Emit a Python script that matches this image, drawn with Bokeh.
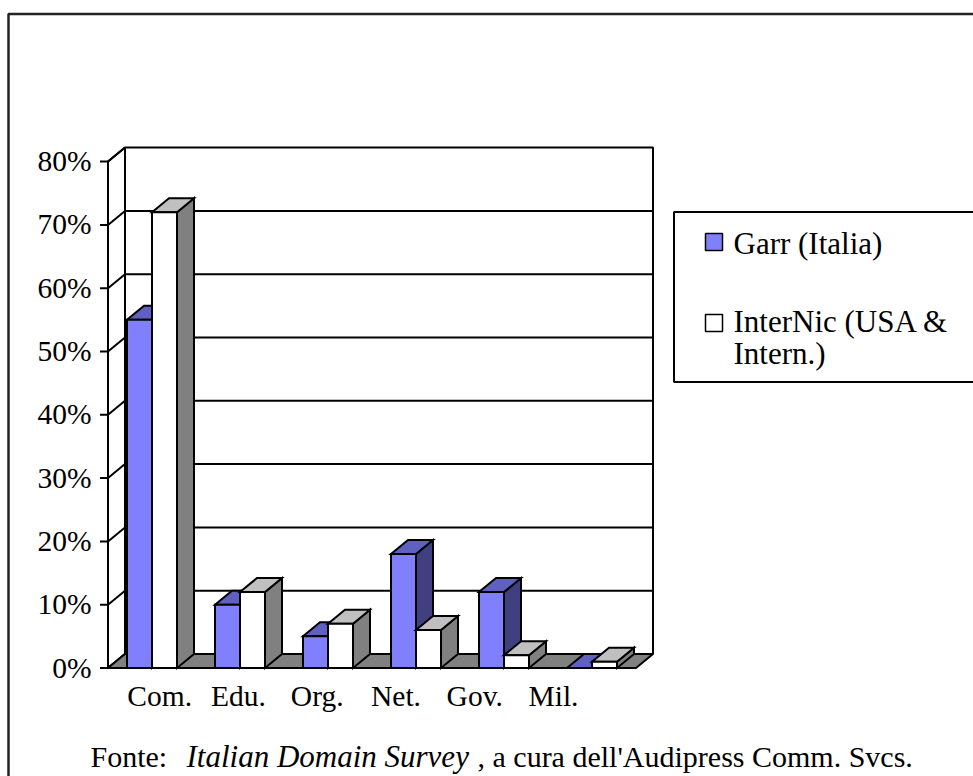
from bokeh.plotting import figure
from bokeh.models import Range1d
from bokeh.core.properties import value
from bokeh.embed import file_html
from bokeh.resources import INLINE

# ---------------- data ----------------
categories = ["Com.", "Edu.", "Org.", "Net.", "Gov.", "Mil."]
garr = [55, 10, 5, 18, 12, 0]          # Garr (Italia), %
internic = [72, 12, 7, 6, 2, 1]        # InterNic (USA & Intern.), %
y_ticks = [0, 10, 20, 30, 40, 50, 60, 70, 80]
y_tick_labels = ["0%", "10%", "20%", "30%", "40%", "50%", "60%", "70%", "80%"]
series_names = ["Garr (Italia)", "InterNic (USA &", "Intern.)"]
source_note = ["Fonte:", "Italian Domain Survey", ", a cura dell'Audipress Comm. Svcs."]

# ---------------- layout constants (pixels) ----------------
W, H = 973, 776
X0_PX, Y0_PX = 107.5, 667.5      # screen position of the data origin
CAT_PX = 88.0                    # pixels per category
PCT_PX = 6.33                    # pixels per percent
DEPTH_X_PX, DEPTH_Y_PX = 17.0, 14.0
BAR_MARGIN_PX, BAR_W_PX = 19.0, 25.0
TXT_SHIFT = 11.0                 # renderer baseline correction
FONT = value("Liberation Serif")

def xd(px):
    return (px - X0_PX) / CAT_PX

def yd(py):
    return (Y0_PX - py) / PCT_PX

def yt(py):
    # text baseline position in data units
    return yd(py - TXT_SHIFT)

DX = DEPTH_X_PX / CAT_PX
DY = DEPTH_Y_PX / PCT_PX
MARGIN = BAR_MARGIN_PX / CAT_PX
BW = BAR_W_PX / CAT_PX
N = len(categories)
YMAX = y_ticks[-1]

p = figure(width=W, height=H, x_range=Range1d(xd(0), xd(W)), y_range=Range1d(yd(H), yd(0)),
           min_border=0, toolbar_location=None, output_backend="svg",
           x_axis_location=None, y_axis_location=None)
p.xgrid.visible = False
p.ygrid.visible = False
p.outline_line_color = None
p.background_fill_color = "white"
p.border_fill_color = "white"

LW = 2
# outer chart border (runs off the page at right and bottom)
p.line(x=[xd(8), xd(8), xd(1000)], y=[yd(900), yd(13.5), yd(13.5)], line_color="#222222", line_width=2.5)

# back wall
p.patch(x=[DX, N + DX, N + DX, DX], y=[DY, DY, YMAX + DY, YMAX + DY],
        fill_color="white", line_color="black", line_width=LW)
# side wall
p.patch(x=[0, 0, DX, DX], y=[0, YMAX, YMAX + DY, DY],
        fill_color="white", line_color="black", line_width=LW)
# gridlines on back wall and side wall
grid = y_ticks[1:-1]
p.multi_line(xs=[[DX, N + DX] for _ in grid], ys=[[v + DY, v + DY] for v in grid],
             line_color="black", line_width=LW)
p.multi_line(xs=[[0, DX] for _ in y_ticks], ys=[[v, v + DY] for v in y_ticks],
             line_color="black", line_width=LW)
# floor
p.patch(x=[0, N, N + DX, DX], y=[0, 0, DY, DY], fill_color="#808080", line_color="black", line_width=LW)

# value axis with ticks
p.line(x=[0, 0], y=[0, YMAX], line_color="black", line_width=LW)
tick_len = 8.0 / CAT_PX
p.multi_line(xs=[[-tick_len, 0] for _ in y_ticks], ys=[[v, v] for v in y_ticks],
             line_color="black", line_width=LW)
p.text(x=[xd(91)] * len(y_ticks), y=[v - (10.5 - TXT_SHIFT) / PCT_PX for v in y_ticks], text=y_tick_labels,
       text_font=FONT, text_font_size="29.5px", text_align="right", text_baseline="alphabetic",
       text_color="black")

# 3-D bars
def bar_faces(values, offset):
    fx, fy, tx, ty, sx, sy = [], [], [], [], [], []
    for i, v in enumerate(values):
        x0 = i + MARGIN + offset * BW
        x1 = x0 + BW
        fx.append([x0, x1, x1, x0]); fy.append([0, 0, v, v])
        tx.append([x0, x1, x1 + DX, x0 + DX]); ty.append([v, v, v + DY, v + DY])
        sx.append([x1, x1 + DX, x1 + DX, x1]); sy.append([0, DY, v + DY, v])
    return fx, fy, tx, ty, sx, sy

styles = [("#8080FF", "#6060C0", "#404080"), ("#FFFFFF", "#C0C0C0", "#808080")]
for k, vals in enumerate([garr, internic]):
    fx, fy, tx, ty, sx, sy = bar_faces(vals, k)
    front, top, side = styles[k]
    p.patches(xs=sx, ys=sy, fill_color=side, line_color="black", line_width=LW, line_join="miter")
    p.patches(xs=tx, ys=ty, fill_color=top, line_color="black", line_width=LW, line_join="miter")
    p.patches(xs=fx, ys=fy, fill_color=front, line_color="black", line_width=LW, line_join="miter")

# category labels
label_x = [xd(159.2 + i * 78.76) for i in range(N)]
p.text(x=label_x, y=[yt(706)] * N, text=categories, text_font=FONT, text_font_size="29.5px",
       text_align="center", text_baseline="alphabetic", text_color="black")

# legend box
p.patch(x=[xd(673.5), xd(990), xd(990), xd(673.5)], y=[yd(381.5), yd(381.5), yd(211.5), yd(211.5)],
        fill_color="white", line_color="black", line_width=LW)
p.quad(left=[xd(705), xd(705)], right=[xd(722), xd(722)], top=[yd(233), yd(314)],
       bottom=[yd(250), yd(331)], fill_color=[styles[0][0], styles[1][0]], line_color="black",
       line_width=1.5)
p.text(x=[xd(733)] * 3, y=[yt(253.5), yt(331.5), yt(364)], text=series_names, text_font=FONT,
       text_font_size="31px", text_align="left", text_baseline="alphabetic", text_color="black")

# source note
p.text(x=[xd(90)], y=[yt(767)], text=[source_note[0]], text_font=FONT, text_font_size="30px",
       text_align="left", text_baseline="alphabetic", text_color="black")
p.text(x=[xd(186)], y=[yt(767)], text=[source_note[1]], text_font=FONT, text_font_size="31px",
       text_font_style="italic", text_align="left", text_baseline="alphabetic", text_color="black")
p.text(x=[xd(477)], y=[yt(767)], text=[source_note[2]], text_font=FONT, text_font_size="30px",
       text_align="left", text_baseline="alphabetic", text_color="black")

open("out.html", "w").write(file_html(p, INLINE))
